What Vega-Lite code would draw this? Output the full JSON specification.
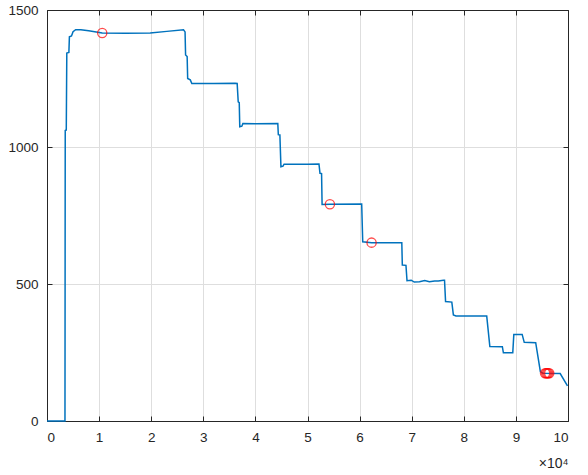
{
  "$schema": "https://vega.github.io/schema/vega-lite/v6.json",
  "width": 521,
  "height": 411,
  "autosize": "none",
  "padding": {"left": 47, "top": 10, "right": 20, "bottom": 54},
  "config": {
    "view": {"stroke": "#262626", "strokeWidth": 1},
    "font": "Liberation Sans",
    "axis": {
      "domainColor": "#262626",
      "tickColor": "#262626",
      "tickSize": -5,
      "labelColor": "#262626",
      "labelFontSize": 13.5,
      "labelFont": "Liberation Sans",
      "gridColor": "#dedede",
      "gridWidth": 1,
      "titleFont": "Liberation Sans",
      "titleColor": "#262626"
    }
  },
  "datasets": {
    "series": [
      {"x": 0, "y": 0}, {"x": 3450, "y": 0}, {"x": 3500, "y": 1060}, {"x": 3700, "y": 1062},
      {"x": 3800, "y": 1343}, {"x": 4200, "y": 1345}, {"x": 4300, "y": 1402}, {"x": 4700, "y": 1405},
      {"x": 5000, "y": 1421}, {"x": 5500, "y": 1428}, {"x": 6500, "y": 1428}, {"x": 8000, "y": 1424},
      {"x": 10600, "y": 1416}, {"x": 15000, "y": 1415}, {"x": 19800, "y": 1416}, {"x": 23000, "y": 1422},
      {"x": 26200, "y": 1428}, {"x": 26500, "y": 1420}, {"x": 26600, "y": 1336}, {"x": 26900, "y": 1330},
      {"x": 27000, "y": 1250}, {"x": 27500, "y": 1245}, {"x": 27800, "y": 1232}, {"x": 32000, "y": 1232},
      {"x": 36100, "y": 1233}, {"x": 36500, "y": 1232}, {"x": 36700, "y": 1165}, {"x": 36900, "y": 1162},
      {"x": 37000, "y": 1074}, {"x": 37400, "y": 1076}, {"x": 37600, "y": 1086}, {"x": 40000, "y": 1085},
      {"x": 44300, "y": 1086}, {"x": 44400, "y": 1045}, {"x": 44700, "y": 1044}, {"x": 44900, "y": 928},
      {"x": 45300, "y": 930}, {"x": 45500, "y": 937}, {"x": 50000, "y": 937}, {"x": 52200, "y": 938},
      {"x": 52400, "y": 904}, {"x": 52700, "y": 903}, {"x": 52800, "y": 790}, {"x": 54300, "y": 791},
      {"x": 60400, "y": 792}, {"x": 60600, "y": 654}, {"x": 62300, "y": 651}, {"x": 68100, "y": 651},
      {"x": 68200, "y": 569}, {"x": 68900, "y": 568}, {"x": 69100, "y": 512}, {"x": 69900, "y": 514},
      {"x": 70500, "y": 507}, {"x": 71500, "y": 508}, {"x": 72500, "y": 513}, {"x": 73400, "y": 508},
      {"x": 74400, "y": 511}, {"x": 75100, "y": 511}, {"x": 76100, "y": 514}, {"x": 76300, "y": 514},
      {"x": 76500, "y": 436}, {"x": 77700, "y": 434}, {"x": 78000, "y": 387}, {"x": 78500, "y": 383},
      {"x": 84400, "y": 383}, {"x": 85000, "y": 272}, {"x": 87400, "y": 271}, {"x": 87600, "y": 249},
      {"x": 89400, "y": 249}, {"x": 89600, "y": 316}, {"x": 91200, "y": 316}, {"x": 91600, "y": 287},
      {"x": 93800, "y": 286}, {"x": 94700, "y": 180}, {"x": 95200, "y": 174}, {"x": 98500, "y": 173},
      {"x": 99900, "y": 128}
    ],
    "markers": [
      {"x": 10600, "y": 1416}, {"x": 54300, "y": 791}, {"x": 62300, "y": 651},
      {"x": 95600, "y": 174}, {"x": 95800, "y": 174}, {"x": 96000, "y": 174},
      {"x": 96200, "y": 174}, {"x": 96400, "y": 174}
    ]
  },
  "layer": [
    {
      "data": {"name": "series"},
      "mark": {"type": "line", "color": "#0072BD", "strokeWidth": 1.5},
      "encoding": {
        "x": {
          "field": "x", "type": "quantitative",
          "scale": {"domain": [0, 100000], "nice": false, "zero": false},
          "axis": {
            "orient": "bottom", "values": [0, 10000, 20000, 30000, 40000, 50000, 60000, 70000, 80000, 90000, 100000],
            "labelExpr": "format(datum.value / 10000, 'd')",
            "labelPadding": 14, "grid": true,
            "title": "×10⁴", "titleAnchor": "end", "titleAlign": "right",
            "titleFontWeight": "normal", "titleFontSize": 14, "titlePadding": 13
          }
        },
        "y": {
          "field": "y", "type": "quantitative",
          "scale": {"domain": [0, 1500], "nice": false, "zero": false},
          "axis": {
            "orient": "left", "values": [0, 500, 1000, 1500], "format": "d",
            "labelPadding": 14, "grid": true, "title": null
          }
        }
      }
    },
    {
      "data": {"name": "markers"},
      "mark": {"type": "point", "shape": "circle", "filled": false, "color": "#FF0000", "size": 85, "strokeWidth": 1.3},
      "encoding": {
        "x": {
          "field": "x", "type": "quantitative",
          "scale": {"domain": [0, 100000], "nice": false, "zero": false},
          "axis": {"orient": "top", "values": [0, 10000, 20000, 30000, 40000, 50000, 60000, 70000, 80000, 90000, 100000], "labels": false, "grid": false, "title": null}
        },
        "y": {
          "field": "y", "type": "quantitative",
          "scale": {"domain": [0, 1500], "nice": false, "zero": false},
          "axis": {"orient": "right", "values": [0, 500, 1000, 1500], "labels": false, "grid": false, "title": null}
        }
      }
    }
  ],
  "resolve": {"axis": {"x": "independent", "y": "independent"}}
}
